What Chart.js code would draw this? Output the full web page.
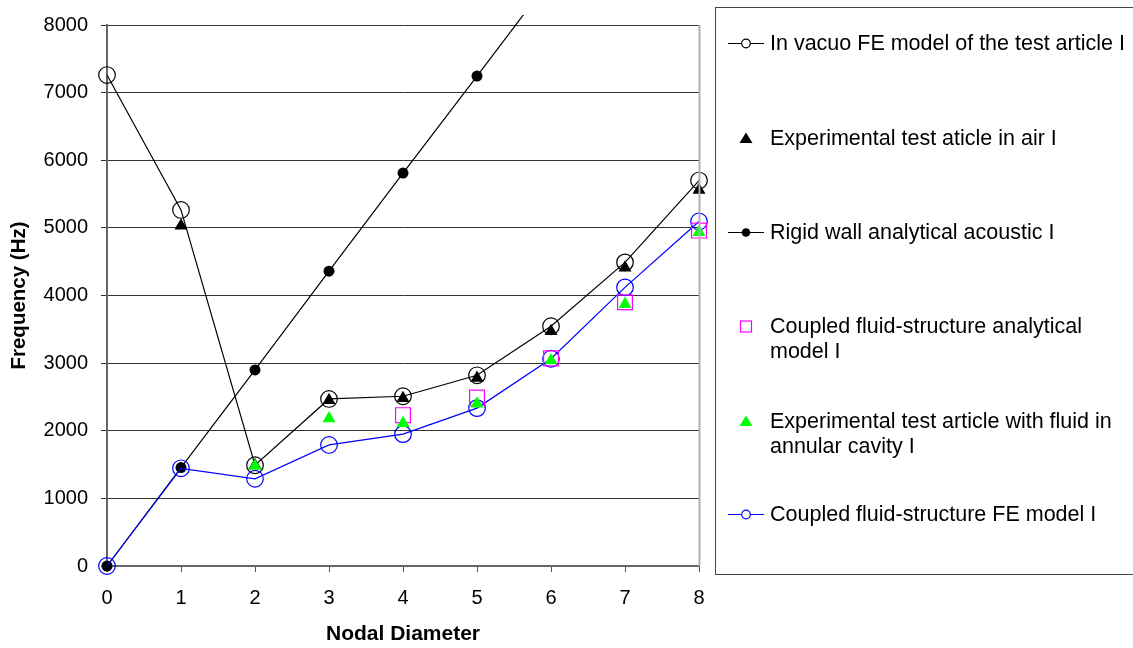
<!DOCTYPE html>
<html>
<head>
<meta charset="utf-8">
<script src="https://cdn.jsdelivr.net/npm/chart.js@4/dist/chart.umd.min.js"></script>
<style>
  html, body { margin: 0; padding: 0; background: #fff; }
  #wrap { width: 1133px; height: 648px; position: relative; }
</style>
</head>
<body>
<div id="wrap"><canvas id="c" width="1133" height="648"></canvas></div>
<script>
const nodalDiameters = [0, 1, 2, 3, 4, 5, 6, 7, 8];
const yTicks = [0, 1000, 2000, 3000, 4000, 5000, 6000, 7000, 8000];

const inVacuoFE      = [7260, 5265, 1490, 2470, 2510, 2820, 3545, 4490, 5700];
const expInAir       = [null, 5030, 1490, 2450, 2480, 2780, 3470, 4410, 5560];
const rigidWall      = [0, 1455, 2900, 4360, 5810, 7245, 8690, null, null];
const coupledAnalyt  = [null, null, null, null, 2230, 2490, 3070, 3900, 4960];
const expWithFluid   = [null, null, 1480, 2180, 2110, 2400, 3040, 3870, 4935];
const coupledFE      = [0, 1445, 1290, 1790, 1950, 2335, 3065, 4120, 5095];

const labels = [
  "In vacuo FE model of the test article I",
  "Experimental test aticle in air I",
  "Rigid wall analytical acoustic I",
  "Coupled fluid-structure analytical model I",
  "Experimental test article with fluid in annular cavity I",
  "Coupled fluid-structure FE model I"
];

const FONT = "'Liberation Sans', Arial, sans-serif";

function pts(arr) { return nodalDiameters.map((x, i) => ({x: x, y: arr[i]})); }

// datasets: index 0 drawn on top
const datasets = [
  { label: labels[4], data: pts(expWithFluid), showLine: false,
    pointStyle: 'triangle', pointRadius: 7.5, pointBackgroundColor: '#00ff00', pointBorderColor: '#00ff00', pointBorderWidth: 0 },
  { label: labels[1], data: pts(expInAir), showLine: false,
    pointStyle: 'triangle', pointRadius: 7.5, pointBackgroundColor: '#000', pointBorderColor: '#000', pointBorderWidth: 0 },
  { label: labels[3], data: pts(coupledAnalyt), showLine: false,
    pointStyle: 'rect', pointRadius: 10.5, pointBackgroundColor: 'rgba(0,0,0,0)', pointBorderColor: '#ff00ff', pointBorderWidth: 1.2 },
  { label: labels[5], data: pts(coupledFE), showLine: true, borderColor: '#0000ff', borderWidth: 1.2,
    pointStyle: 'circle', pointRadius: 8.3, pointBackgroundColor: 'rgba(0,0,0,0)', pointBorderColor: '#0000ff', pointBorderWidth: 1.2 },
  { label: labels[2], data: pts(rigidWall), showLine: true, borderColor: '#000', borderWidth: 1.2,
    pointStyle: 'circle', pointRadius: 5.5, pointBackgroundColor: '#000', pointBorderColor: '#000', pointBorderWidth: 0 },
  { label: labels[0], data: pts(inVacuoFE), showLine: true, borderColor: '#000', borderWidth: 1.2,
    pointStyle: 'circle', pointRadius: 8.3, pointBackgroundColor: 'rgba(0,0,0,0)', pointBorderColor: '#000', pointBorderWidth: 1.2 }
];
datasets.forEach(d => {
  d.fill = false; d.tension = 0; d.spanGaps = false; d.pointHoverRadius = d.pointRadius;
  d.clip = {left: 14, top: 10, right: 14, bottom: 14};
});

const legendItems = [
  { lines: ["In vacuo FE model of the test article I"], y: [43], sym: 'lineCircle', color: '#000' },
  { lines: ["Experimental test aticle in air I"], y: [138], sym: 'triangle', color: '#000' },
  { lines: ["Rigid wall analytical acoustic I"], y: [232], sym: 'lineDot', color: '#000' },
  { lines: ["Coupled fluid-structure analytical", "model I"], y: [326, 351], sym: 'square', color: '#ff00ff' },
  { lines: ["Experimental test article with fluid in", "annular cavity I"], y: [421, 446], sym: 'triangle', color: '#00ff00' },
  { lines: ["Coupled fluid-structure FE model I"], y: [514], sym: 'lineCircle', color: '#0000ff' }
];

const decorPlugin = {
  id: 'decor',
  afterDraw(chart) {
    const ctx = chart.ctx;
    const a = chart.chartArea;
    ctx.save();
    // right border of plot area
    ctx.strokeStyle = '#b0b0b0';
    ctx.lineWidth = 2;
    ctx.beginPath();
    ctx.moveTo(a.right + 0.5, a.top);
    ctx.lineTo(a.right + 0.5, a.bottom);
    ctx.stroke();
    // legend box
    ctx.strokeStyle = '#444';
    ctx.lineWidth = 1;
    ctx.strokeRect(715.5, 7.5, 430, 567);
    ctx.font = '21.5px ' + FONT;
    ctx.fillStyle = '#000';
    ctx.textBaseline = 'middle';
    ctx.textAlign = 'left';
    legendItems.forEach(it => {
      const sy = it.y[0];
      const sx = 746;
      ctx.strokeStyle = it.color;
      ctx.fillStyle = it.color;
      ctx.lineWidth = 1.2;
      if (it.sym === 'lineCircle' || it.sym === 'lineDot') {
        ctx.beginPath();
        ctx.moveTo(728, sy + 0.5);
        ctx.lineTo(764, sy + 0.5);
        ctx.stroke();
        ctx.beginPath();
        ctx.arc(sx, sy + 0.5, 4.3, 0, Math.PI * 2);
        if (it.sym === 'lineDot') { ctx.fill(); }
        else { ctx.fillStyle = '#fff'; ctx.fill(); ctx.stroke(); }
      } else if (it.sym === 'triangle') {
        ctx.beginPath();
        ctx.moveTo(sx, sy - 5.5);
        ctx.lineTo(sx + 6.5, sy + 5);
        ctx.lineTo(sx - 6.5, sy + 5);
        ctx.closePath();
        ctx.fill();
      } else if (it.sym === 'square') {
        ctx.strokeRect(sx - 5.5, sy - 5, 11, 11);
      }
      ctx.fillStyle = '#000';
      it.lines.forEach((t, k) => ctx.fillText(t, 770, it.y[k] + 1));
    });
    ctx.restore();
  }
};

new Chart(document.getElementById('c'), {
  type: 'scatter',
  data: { datasets: datasets },
  plugins: [decorPlugin],
  options: {
    responsive: false,
    animation: false,
    events: [],
    layout: { padding: { top: 24, right: 434, bottom: 0, left: 0 } },
    plugins: { legend: { display: false }, tooltip: { enabled: false } },
    scales: {
      x: {
        type: 'linear', min: 0, max: 8,
        afterBuildTicks: s => { s.ticks = nodalDiameters.map(v => ({value: v})); },
        afterFit: s => { s.height = 82; },
        ticks: { font: { size: 20, family: FONT }, color: '#000', padding: 14, callback: v => String(v) },
        grid: { drawOnChartArea: false, drawTicks: true, tickLength: 6, color: '#555', lineWidth: 1 },
        border: { color: '#666', width: 2 },
        title: { display: true, text: 'Nodal Diameter', font: { size: 21, weight: 'bold', family: FONT }, color: '#000', padding: { top: 0, bottom: 1.5 } }
      },
      y: {
        type: 'linear', min: 0, max: 8000,
        afterBuildTicks: s => { s.ticks = yTicks.map(v => ({value: v})); },
        afterFit: s => { s.width = 107; },
        ticks: { font: { size: 20, family: FONT }, color: '#000', padding: 13, callback: v => String(v) },
        grid: { drawOnChartArea: true, drawTicks: true, tickLength: 6, color: '#333', lineWidth: 1 },
        border: { color: '#666', width: 2 },
        title: { display: true, text: 'Frequency (Hz)', font: { size: 20.5, weight: 'bold', family: FONT }, color: '#000', padding: { top: 7.5, bottom: 0 } }
      }
    }
  }
});
</script>
</body>
</html>
